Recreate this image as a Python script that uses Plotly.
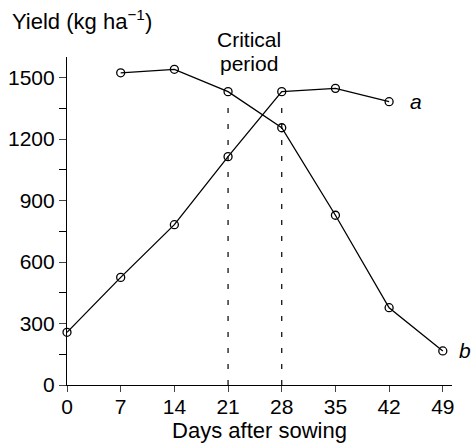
import plotly.graph_objects as go

days_a = [0, 7, 14, 21, 28, 35, 42]
yield_a = [257, 525, 782, 1114, 1431, 1447, 1382]
days_b = [7, 14, 21, 28, 35, 42, 49]
yield_b = [1523, 1540, 1431, 1255, 828, 377, 166]
critical_days = [21, 28]
critical_tops = [1431, 1431]
x_ticks = [0, 7, 14, 21, 28, 35, 42, 49]
y_ticks = [0, 300, 600, 900, 1200, 1500]

FONT = "Liberation Sans, Arial, Helvetica, sans-serif"
FS = 21
fig = go.Figure()

for d, top in zip(critical_days, critical_tops):
    fig.add_trace(go.Scatter(x=[d, d], y=[0, top - 45], mode="lines",
                             line=dict(color="black", width=1.2, dash="5px,11px"),
                             showlegend=False, hoverinfo="skip"))

for xs, ys in [(days_a, yield_a), (days_b, yield_b)]:
    fig.add_trace(go.Scatter(x=xs, y=ys, mode="lines+markers",
                             line=dict(color="black", width=1.3),
                             marker=dict(symbol="circle-open", size=8, color="black",
                                         line=dict(width=1.3)),
                             showlegend=False, cliponaxis=False))

fig.update_layout(
    width=471, height=445,
    margin=dict(l=67, r=19, t=57, b=60, autoexpand=False),
    paper_bgcolor="white", plot_bgcolor="white",
    font=dict(family=FONT, size=FS, color="black"),
    xaxis=dict(range=[0, 50.2], tickvals=x_ticks, ticks="outside", ticklen=6,
               tickwidth=1.2, showline=True, linecolor="black", linewidth=1.2,
               showgrid=False, zeroline=False, automargin=False,
               ticklabelstandoff=-3,
               title=dict(text="Days after sowing", standoff=2, font=dict(size=22))),
    yaxis=dict(range=[0, 1600], tickvals=y_ticks, ticks="outside", ticklen=7,
               tickwidth=1.2, showline=True, linecolor="black", linewidth=1.2,
               showgrid=False, zeroline=False, automargin=False,
               minor=dict(tickvals=[150, 450, 750, 1050, 1350], ticks="outside",
                          ticklen=7, tickwidth=1.2, tickcolor="black")),
)

fig.add_annotation(text="Yield (kg ha<sup>−1</sup>)", xref="paper", yref="paper",
                   x=-0.148, y=1.113, xanchor="left", yanchor="middle",
                   showarrow=False, font=dict(size=22))
fig.add_annotation(text="Critical", x=23.75, y=1.052, xref="x", yref="paper",
                   showarrow=False, font=dict(size=FS), yanchor="middle")
fig.add_annotation(text="period", x=23.75, y=0.979, xref="x", yref="paper",
                   showarrow=False, font=dict(size=FS), yanchor="middle")
fig.add_annotation(text="<i>a</i>", x=44.5, y=yield_a[-1], xref="x", yref="y",
                   xanchor="left", showarrow=False, font=dict(size=FS))
fig.add_annotation(text="<i>b</i>", x=1.014, y=yield_b[-1], xref="paper", yref="y",
                   xanchor="left", showarrow=False, font=dict(size=FS))

fig.write_html("out.html",
               config={"displayModeBar": False},
               post_script="document.body.style.margin='0';"
                           "document.body.style.overflow='hidden';")
